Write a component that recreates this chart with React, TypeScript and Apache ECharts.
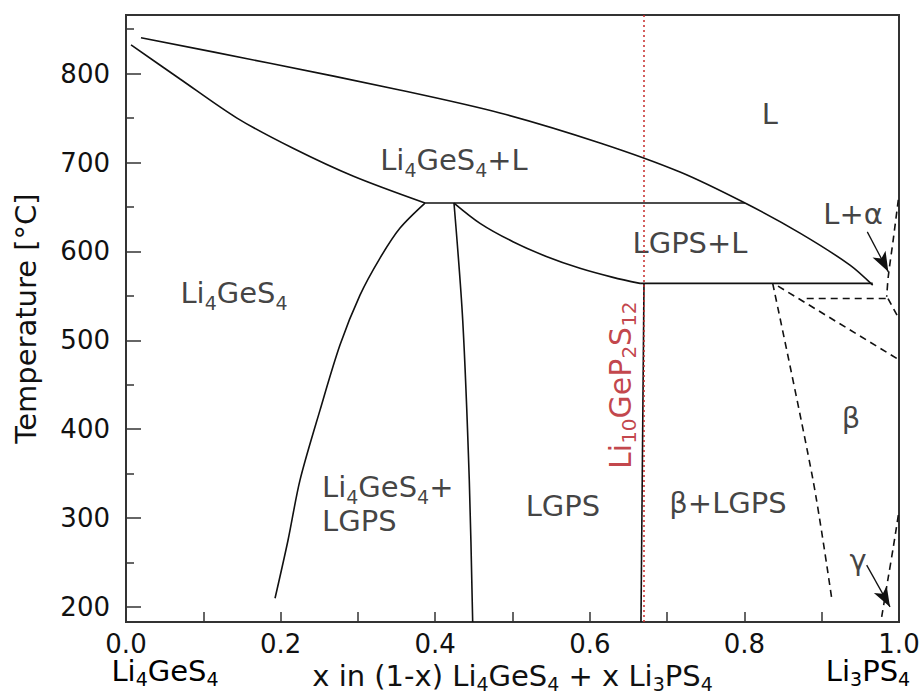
import React, { useEffect, useRef } from "react";
import * as echarts from "echarts";

const FONT = '"DejaVu Sans", Verdana, sans-serif';

// axis ticks
const xMajorTicks = [0, 0.2, 0.4, 0.6, 0.8, 1.0];
const yMajorTicks = [200, 300, 400, 500, 600, 700, 800];
const yMinorTicks = [250, 350, 450, 550, 650, 750, 850];
const yRange = [183, 866];
const lgpsComposition = 2 / 3;

// solid phase boundaries [x, T]
const liquidusUpper = [
  [0.0194, 840.5], [0.1863, 811.7], [0.354, 781.7], [0.4838, 755.8], [0.6132, 722],
  [0.7167, 689.3], [0.8008, 654.4], [0.8719, 620.6], [0.9366, 584.6], [0.966, 562],
];
const liquidusLi4GeS4 = [
  [0.0065, 832.3], [0.0699, 794], [0.1436, 750], [0.2161, 716], [0.2943, 684.5], [0.3868, 654.4],
];
const solvusLi4GeS4 = [
  [0.3868, 654.4], [0.3545, 626.3], [0.3286, 592.5], [0.3027, 550.8], [0.2768, 494.6],
  [0.251, 421.4], [0.2251, 342.6], [0.2096, 275], [0.1928, 209.7],
];
const lgpsLeft = [[0.4243, 654.4], [0.4356, 522.6], [0.4441, 342.5], [0.4485, 183]];
const lgpsLiquidus = [
  [0.4243, 654.4], [0.458, 631.6], [0.5006, 610.9], [0.5446, 594], [0.5873, 581], [0.63, 570.8], [0.665, 564],
];
const eutectic654 = [[0.3868, 654.4], [0.8008, 654.4]];
const peritectic564 = [[0.665, 564], [0.966, 564]];
const lgpsRight = [[0.6701, 564], [0.6662, 183]];

// dashed (tentative) boundaries
const betaBoundary = [[0.8366, 564], [0.8888, 342.6], [0.9129, 209.8]];
const dashDiagonal = [[0.8435, 561], [1.0, 478]];
const dashHorizontal = [[0.8806, 547], [0.9858, 547]];
const dashShort = [[0.9858, 547], [1.0, 524]];
const alphaBoundary = [[0.9991, 658], [0.9926, 613.6], [0.9861, 571.5], [0.9841, 549]];
const gammaBoundary = [[0.9991, 303.2], [0.9927, 267.5], [0.9862, 233.7], [0.9776, 188.7]];

// arrows [from, to]
const arrows = [
  [[0.959, 622], [0.9862, 577]],
  [[0.9582, 247], [0.9884, 200]],
];

// region labels [x, T, text, align]
const regionLabels: [number, number, string, string][] = [
  [0.833, 753.5, "{n|L}", "center"],
  [0.4243, 702.7, "{n|Li}{s|4}{n|GeS}{s|4}{n|+L}", "center"],
  [0.7296, 609.4, "{n|LGPS+L}", "center"],
  [0.1397, 553, "{n|Li}{s|4}{n|GeS}{s|4}", "center"],
  [0.9405, 641, "{n|L+α}", "center"],
  [0.938, 412.3, "{n|β}", "center"],
  [0.2536, 315, "{n|Li}{s|4}{n|GeS}{s|4}{n|+}\n{n|LGPS}", "left"],
  [0.5653, 313.4, "{n|LGPS}", "center"],
  [0.7788, 316.7, "{n|β+LGPS}", "center"],
  [0.947, 252.5, "{n|γ}", "center"],
];
const lgpsLabel = [0.6417, 449.5, "{r|Li}{rs|10}{r|GeP}{rs|2}{r|S}{rs|12}"];

const RED = "#b3141c";
const rich = {
  n: { fontSize: 29, fontFamily: FONT, color: "#111", lineHeight: 34, verticalAlign: "top" },
  s: { fontSize: 19, fontFamily: FONT, color: "#111", lineHeight: 16, verticalAlign: "bottom" },
  r: { fontSize: 30, fontFamily: FONT, color: RED, lineHeight: 34, verticalAlign: "top" },
  rs: { fontSize: 20, fontFamily: FONT, color: RED, lineHeight: 16, verticalAlign: "bottom" },
};
const richBottom = {
  n: { fontSize: 29, fontFamily: FONT, color: "#111", lineHeight: 32, verticalAlign: "top" },
  s: { fontSize: 19, fontFamily: FONT, color: "#111", lineHeight: 14, verticalAlign: "bottom" },
};

function solid(data: number[][], name: string) {
  return {
    type: "line", name, data, showSymbol: false, smooth: 0.3, silent: true,
    lineStyle: { color: "#111", width: 1.6 },
  };
}
function dashed(data: number[][], name: string) {
  return {
    type: "line", name, data, showSymbol: false, smooth: 0.3, silent: true,
    lineStyle: { color: "#111", width: 1.6, type: [7, 5] },
  };
}

export default function App() {
  const ref = useRef<HTMLDivElement>(null);
  useEffect(() => {
    const chart = echarts.init(ref.current!, null, { renderer: "svg" });
    const option = {
      animation: false,
      backgroundColor: "#fff",
      grid: {
        left: 126, right: 25, top: 15, bottom: 71, show: true, borderColor: "#333", borderWidth: 2,
        containLabel: false, outerBoundsMode: "none",
      },
      xAxis: {
        type: "value", min: 0, max: 1, interval: 0.1,
        axisLine: { show: true, lineStyle: { color: "#333", width: 2 } },
        axisTick: { show: true, inside: true, length: 10, lineStyle: { color: "#333", width: 1.5 } },
        axisLabel: {
          customValues: xMajorTicks, formatter: (v: number) => v.toFixed(1),
          fontSize: 26, fontFamily: FONT, color: "#111", margin: 9,
        },
        splitLine: { show: false },
        name: "{n|x in (1-x) Li}{s|4}{n|GeS}{s|4}{n| + x Li}{s|3}{n|PS}{s|4}",
        nameLocation: "middle", nameGap: 33,
        nameTextStyle: { rich: richBottom },
      },
      yAxis: [
        {
          type: "value", min: yRange[0], max: yRange[1], position: "left",
          axisLine: { show: true, lineStyle: { color: "#333", width: 2 } },
          axisTick: { show: true, inside: true, length: 15, customValues: yMajorTicks, lineStyle: { color: "#333", width: 1.5 } },
          axisLabel: { customValues: yMajorTicks, fontSize: 26, fontFamily: FONT, color: "#111", margin: 16 },
          splitLine: { show: false },
          name: "Temperature [°C]", nameLocation: "middle", nameGap: 86,
          nameTextStyle: { fontSize: 29, fontFamily: FONT, color: "#111" },
        },
        {
          type: "value", min: yRange[0], max: yRange[1], position: "left", offset: 0,
          axisLine: { show: false },
          axisTick: { show: true, inside: true, length: 8, customValues: yMinorTicks, lineStyle: { color: "#333", width: 1.5 } },
          axisLabel: { show: false },
          splitLine: { show: false },
        },
      ],
      graphic: [
        { type: "text", x: 165, y: 672, style: { text: "{n|Li}{s|4}{n|GeS}{s|4}", rich: richBottom, align: "center", verticalAlign: "middle" } },
        { type: "text", x: 868, y: 672, style: { text: "{n|Li}{s|3}{n|PS}{s|4}", rich: richBottom, align: "center", verticalAlign: "middle" } },
      ],
      series: [
        solid(liquidusUpper, "liquidusUpper"),
        solid(liquidusLi4GeS4, "liquidusLi4GeS4"),
        solid(solvusLi4GeS4, "solvusLi4GeS4"),
        solid(lgpsLeft, "lgpsLeft"),
        solid(lgpsLiquidus, "lgpsLiquidus"),
        { ...solid(eutectic654, "eutectic654"), smooth: false },
        { ...solid(peritectic564, "peritectic564"), smooth: false },
        { ...solid(lgpsRight, "lgpsRight"), smooth: false },
        dashed(betaBoundary, "betaBoundary"),
        { ...dashed(dashDiagonal, "dashDiagonal"), smooth: false },
        { ...dashed(dashHorizontal, "dashHorizontal"), smooth: false },
        { ...dashed(dashShort, "dashShort"), smooth: false },
        dashed(alphaBoundary, "alphaBoundary"),
        dashed(gammaBoundary, "gammaBoundary"),
        {
          type: "line", name: "markers", data: [], silent: true,
          markLine: {
            silent: true, symbol: ["none", "none"],
            label: { show: false },
            lineStyle: { color: "#c62828", width: 1.5, type: [2, 3] },
            data: [{ xAxis: lgpsComposition }],
          },
        },
        {
          type: "line", name: "arrows", data: [], silent: true,
          markLine: {
            silent: true, symbol: ["none", "arrow"], symbolSize: [11, 20],
            label: { show: false },
            lineStyle: { color: "#111", width: 1.3, type: "solid" },
            data: arrows.map(([a, b]) => [{ coord: a }, { coord: b }]),
          },
        },
        {
          type: "scatter", name: "labels", symbolSize: 1, silent: true,
          itemStyle: { color: "transparent" },
          data: regionLabels.map(([x, t, txt, align]) => ({
            value: [x, t], name: txt,
            label: { align },
          })),
          label: {
            show: true, position: "inside", offset: [0, 2],
            formatter: (p: any) => p.name, rich,
          },
        },
        {
          type: "scatter", name: "lgpsLabel", symbolSize: 1, silent: true,
          itemStyle: { color: "transparent" },
          data: [{ value: [lgpsLabel[0], lgpsLabel[1]], name: lgpsLabel[2] }],
          label: {
            show: true, position: "inside", rotate: 90,
            formatter: (p: any) => p.name, rich,
          },
        },
      ],
    };
    chart.setOption(option as any);
    return () => chart.dispose();
  }, []);
  return <div ref={ref} style={{ position: "fixed", left: 0, top: 0, width: 924, height: 693 }} />;
}
